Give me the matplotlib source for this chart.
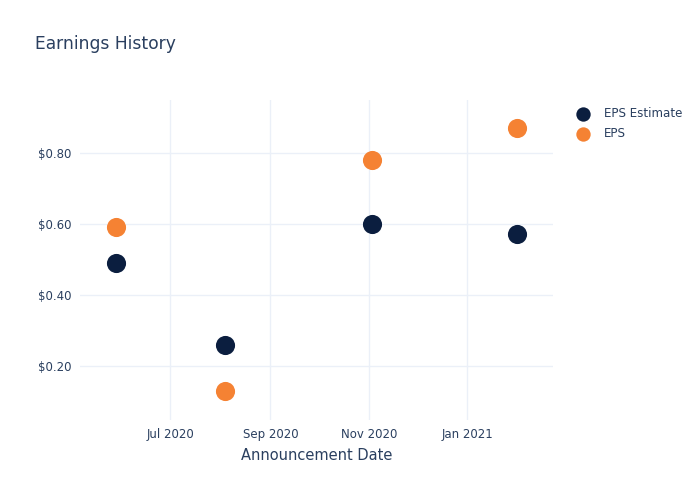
import matplotlib.pyplot as plt
import matplotlib.dates as mdates
import numpy as np
from datetime import datetime

dates = ['2020-05-28', '2020-08-04', '2020-11-03', '2021-02-01']
eps_estimate = [0.49, 0.26, 0.60, 0.57]
eps_actual = [0.59, 0.13, 0.78, 0.87]

text_color = '#2a3f5f'
grid_color = '#ebf0f8'
navy = '#0b1e3f'
orange = '#f58233'

x = [datetime.strptime(d, '%Y-%m-%d') for d in dates]

fig = plt.figure(figsize=(7, 5), dpi=100)
ax = fig.add_axes([80 / 700, 80 / 500, 473 / 700, 320 / 500])

ax.scatter(x, eps_estimate, s=190, color=navy, label='EPS Estimate', zorder=3, linewidths=0)
ax.scatter(x, eps_actual, s=190, color=orange, label='EPS', zorder=3, linewidths=0)

ax.set_xlim(datetime(2020, 5, 6), datetime(2021, 2, 23))
ax.set_ylim(0.048, 0.948)
ax.xaxis.set_major_locator(mdates.MonthLocator(bymonth=[1, 3, 5, 7, 9, 11]))
ax.xaxis.set_major_formatter(mdates.DateFormatter('%b %Y'))
ax.set_yticks([0.2, 0.4, 0.6, 0.8])
ax.set_yticklabels(['$0.20', '$0.40', '$0.60', '$0.80'])

ax.grid(True, color=grid_color, linewidth=1)
ax.set_axisbelow(True)
for s in ax.spines.values():
    s.set_visible(False)
ax.tick_params(length=0, colors=text_color, labelsize=8.5, pad=6)

ax.set_xlabel('Announcement Date', color=text_color, fontsize=10.5, labelpad=5)
fig.text(35 / 700, 1 - 44 / 500, 'Earnings History', color=text_color, fontsize=12.3, va='center')

leg = ax.legend(loc='upper left', bbox_to_anchor=(1.015, 1.012), frameon=False,
                fontsize=8.6, labelcolor=text_color, handletextpad=0.75,
                labelspacing=0.6, markerscale=0.75)

fig.savefig('out.png', dpi=100)
